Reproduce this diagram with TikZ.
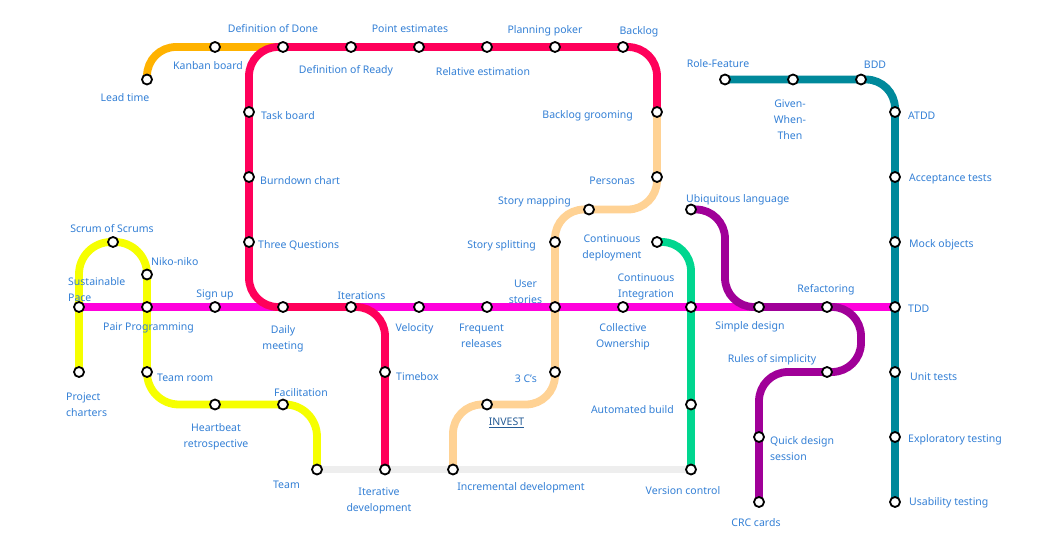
\documentclass[tikz,border=0pt]{standalone}
\usepackage{fontspec}
\setmainfont{Noto Sans}
\usetikzlibrary{backgrounds}
\definecolor{lblblue}{RGB}{52,128,214}
\definecolor{investblue}{RGB}{38,92,150}
\definecolor{lred}{RGB}{255,0,90}
\definecolor{lorange}{RGB}{255,178,0}
\definecolor{lpeach}{RGB}{255,210,148}
\definecolor{lmagenta}{RGB}{255,0,220}
\definecolor{lyellow}{RGB}{246,255,0}
\definecolor{lgrey}{RGB}{238,238,238}
\definecolor{lgreen}{RGB}{0,214,143}
\definecolor{lpurple}{RGB}{160,0,152}
\definecolor{lteal}{RGB}{0,137,155}
\tikzset{
  station/.style={circle, draw=black, fill=white, line width=1.8pt, minimum size=10pt, inner sep=0pt},
  lbl/.style={font=\fontsize{10.5}{16}\selectfont, text=lblblue, align=center, inner sep=0pt},
  metro/.style={line width=7.8pt, rounded corners=29pt}
}
% station with its label: name, grid position, label options, label shift, text
\newcommand{\stn}[5]{%
  \node[station] (#1) at (#2) {};
  \node[lbl, #3] (#1-l) at ([shift={(#4)}]#1) {#5};}
\begin{document}
\begin{tikzpicture}[x=34pt, y=-32.5pt]
\useasboundingbox (-11pt,-18pt) rectangle (1039pt,-558pt);
% top row
\stn{leadtime}{4,3}{anchor=center}{-22pt,-18.5pt}{Lead time}
\stn{kanban}{6,2}{anchor=center}{-7pt,-19pt}{Kanban board}
\stn{dod}{8,2}{anchor=center}{-10pt,18pt}{Definition of Done}
\stn{dor}{10,2}{anchor=center}{-5pt,-24pt}{Definition of Ready}
\stn{pointest}{12,2}{anchor=center}{-9pt,18pt}{Point estimates}
\stn{relest}{14,2}{anchor=center}{-4pt,-25pt}{Relative estimation}
\stn{poker}{16,2}{anchor=center}{-10pt,16pt}{Planning poker}
\stn{backlog}{18,2}{anchor=center}{16pt,15pt}{Backlog}
\stn{taskboard}{7,4}{anchor=west}{12pt,-4pt}{Task board}
\stn{burndown}{7,6}{anchor=west}{11pt,-4pt}{Burndown chart}
\stn{threeq}{7,8}{anchor=west}{9pt,-3pt}{Three Questions}
% story line
\stn{grooming}{19,4}{anchor=east}{-24pt,-4pt}{Backlog grooming}
\stn{personas}{19,6}{anchor=east}{-22pt,-4pt}{Personas}
\stn{storymap}{17,7}{anchor=east}{-18pt,7.5pt}{Story mapping}
\stn{storysplit}{16,8}{anchor=east}{-19pt,-4pt}{Story splitting}
\stn{threec}{16,12}{anchor=east}{-18pt,-7pt}{3 C's}
\stn{invest}{14,13}{anchor=center, text=investblue}{19.5pt,-18.5pt}{\underline{INVEST}}
\stn{incremental}{13,15}{anchor=center}{68pt,-18.5pt}{Incremental development}
% BDD / testing
\stn{rolefeat}{21,3}{anchor=center}{-7pt,15.5pt}{Role-Feature}
\stn{gwt}{23,3}{anchor=center}{-3pt,-40.5pt}{Given-\\When-\\Then}
\stn{bdd}{25,3}{anchor=center}{14pt,14.5pt}{BDD}
\stn{atdd}{26,4}{anchor=west}{13pt,-4pt}{ATDD}
\stn{acceptance}{26,6}{anchor=west}{14pt,-2pt}{Acceptance tests}
\stn{mock}{26,8}{anchor=west}{14pt,-3pt}{Mock objects}
\stn{tdd}{26,10}{anchor=west}{13pt,-2pt}{TDD}
\stn{unit}{26,12}{anchor=west}{15pt,-5pt}{Unit tests}
\stn{exploratory}{26,14}{anchor=west}{13pt,-3pt}{Exploratory testing}
\stn{usability}{26,16}{anchor=west}{14pt,-1pt}{Usability testing}
% design line
\stn{ubiq}{20,7}{anchor=west}{-5pt,9.5pt}{Ubiquitous language}
\stn{simple}{22,10}{anchor=center}{-9pt,-20pt}{Simple design}
\stn{refactor}{24,10}{anchor=center}{-1pt,17pt}{Refactoring}
\stn{rules}{24,12}{anchor=center}{-55pt,12pt}{Rules of simplicity}
\stn{quick}{22,14}{anchor=west, align=left}{11pt,-12pt}{Quick design\\session}
\stn{crc}{22,16}{anchor=center}{-3pt,-21pt}{CRC cards}
% integration line
\stn{cdeploy}{19,8}{anchor=center}{-45pt,-6pt}{Continuous\\deployment}
\stn{ci}{20,10}{anchor=center}{-45pt,20pt}{Continuous\\Integration}
\stn{autobuild}{20,13}{anchor=east}{-17pt,-5.5pt}{Automated build}
\stn{versionctl}{20,15}{anchor=center}{-8pt,-21.5pt}{Version control}
% middle row
\stn{pace}{2,10}{anchor=west, align=left}{-11pt,17pt}{Sustainable\\Pace}
\stn{pairprog}{4,10}{anchor=center}{1.5pt,-21pt}{Pair Programming}
\stn{signup}{6,10}{anchor=center}{0pt,12pt}{Sign up}
\stn{daily}{8,10}{anchor=center}{0pt,-32pt}{Daily\\meeting}
\stn{iterations}{10,10}{anchor=center}{10.5pt,11pt}{Iterations}
\stn{velocity}{12,10}{anchor=center}{-4.5pt,-22pt}{Velocity}
\stn{freqrel}{14,10}{anchor=center}{-5.5pt,-29pt}{Frequent\\releases}
\stn{userstories}{16,10}{anchor=center}{-29.5pt,15pt}{User\\stories}
\stn{collective}{18,10}{anchor=center}{0pt,-30pt}{Collective\\Ownership}
% team line
\stn{scrums}{3,8}{anchor=center}{-1pt,13pt}{Scrum of Scrums}
\stn{niko}{4,9}{anchor=west}{4pt,12.5pt}{Niko-niko}
\stn{charters}{2,12}{anchor=west, align=left}{-13pt,-33pt}{Project\\charters}
\stn{teamroom}{4,12}{anchor=west}{10pt,-6pt}{Team room}
\stn{heartbeat}{6,13}{anchor=center}{1pt,-32.5pt}{Heartbeat\\retrospective}
\stn{facilitation}{8,13}{anchor=center}{18pt,11.5pt}{Facilitation}
\stn{timebox}{11,12}{anchor=west}{11pt,-5pt}{Timebox}
\stn{team}{9,15}{anchor=center}{-30.5pt,-15.5pt}{Team}
\stn{iterative}{11,15}{anchor=center}{-6pt,-31.5pt}{Iterative\\development}
\begin{scope}[on background layer]
\fill[white] (-11pt,-18pt) rectangle (1039pt,-558pt);
\draw[metro, lgrey] (team.center) -- (versionctl.center);
\draw[metro, lmagenta] (pace.center) -- (tdd.center);
\draw[metro, lorange] (leadtime.center) |- (dod.center);
\draw[metro, lred] (grooming.center) |- (taskboard.center |- dod.center) |- (timebox.center |- daily.center) -- (iterative.center);
\draw[metro, lpeach] (grooming.center) |- (storysplit.center |- storymap.center) |- (incremental.center |- invest.center) -- (incremental.center);
\draw[metro, lyellow, rounded corners=32pt] (charters.center) |- (niko.center |- scrums.center) |- (team.center |- facilitation.center) -- (team.center);
\draw[metro, lgreen] (cdeploy.center) -| (versionctl.center);
\draw[metro, lpurple] (ubiq.center) -| (21,10) -| (25,12) -| (crc.center);
\draw[metro, lteal] (rolefeat.center) -| (usability.center);
\end{scope}
\end{tikzpicture}
\end{document}
